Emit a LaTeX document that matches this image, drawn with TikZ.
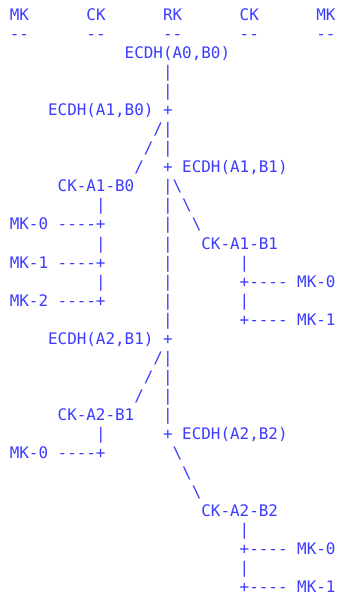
\documentclass[tikz,border=0pt]{standalone}
\usepackage{fontspec}
\setmonofont{DejaVu Sans Mono}
\definecolor{inkblue}{RGB}{60,60,255}
% one character cell: 9.58pt wide, one text row: 19.08pt high
\tikzset{
  ascii/.style={font=\ttfamily\fontsize{15.912}{19.08}\selectfont,
                text=inkblue, inner sep=0pt, anchor=base west},
}
% \glyph{name}{column}{row}{text}
\newcommand\glyph[4]{\node[ascii] (#1) at (#2,#3) {#4};}
\begin{document}
\begin{tikzpicture}[x=9.58pt,y=-19.08pt]
\useasboundingbox[fill=white] (0,-1.0535) rectangle (35.073,30.078);
% column headers
\glyph{hMK1}{1}{0}{MK} \glyph{hCK1}{9}{0}{CK} \glyph{hRK}{17}{0}{RK}
\glyph{hCK2}{25}{0}{CK} \glyph{hMK2}{33}{0}{MK}
\glyph{uMK1}{1}{1}{--} \glyph{uCK1}{9}{1}{--} \glyph{uRK}{17}{1}{--}
\glyph{uCK2}{25}{1}{--} \glyph{uMK2}{33}{1}{--}
% root chain, first step
\glyph{rk0}{13}{2}{ECDH(A0,B0)}
\glyph{rkbar3}{17}{3}{|}
\glyph{rkbar4}{17}{4}{|}
\glyph{rk1}{5}{5}{ECDH(A1,B0)} \glyph{rkplus5}{17}{5}{+}
\glyph{sl6}{16}{6}{/} \glyph{rkbar6}{17}{6}{|}
\glyph{sl7}{15}{7}{/} \glyph{rkbar7}{17}{7}{|}
\glyph{sl8}{14}{8}{/} \glyph{rkplus8}{17}{8}{+} \glyph{rk2}{19}{8}{ECDH(A1,B1)}
% sending chain A1-B0
\glyph{ckA1B0}{6}{9}{CK-A1-B0} \glyph{rkbar9}{17}{9}{|} \glyph{bs9}{18}{9}{\textbackslash}
\glyph{ckbar10}{10}{10}{|} \glyph{rkbar10}{17}{10}{|} \glyph{bs10}{19}{10}{\textbackslash}
\glyph{mkA0}{1}{11}{MK-0} \glyph{ckA0}{6}{11}{----+} \glyph{rkbar11}{17}{11}{|} \glyph{bs11}{20}{11}{\textbackslash}
\glyph{ckbar12}{10}{12}{|} \glyph{rkbar12}{17}{12}{|} \glyph{ckA1B1}{21}{12}{CK-A1-B1}
\glyph{mkA1}{1}{13}{MK-1} \glyph{ckA1}{6}{13}{----+} \glyph{rkbar13}{17}{13}{|} \glyph{cbbar13}{25}{13}{|}
\glyph{ckbar14}{10}{14}{|} \glyph{rkbar14}{17}{14}{|} \glyph{cbB0}{25}{14}{+----} \glyph{mkB0}{31}{14}{MK-0}
\glyph{mkA2}{1}{15}{MK-2} \glyph{ckA2}{6}{15}{----+} \glyph{rkbar15}{17}{15}{|} \glyph{cbbar15}{25}{15}{|}
\glyph{rkbar16}{17}{16}{|} \glyph{cbB1}{25}{16}{+----} \glyph{mkB1}{31}{16}{MK-1}
% root chain, second step
\glyph{rk3}{5}{17}{ECDH(A2,B1)} \glyph{rkplus17}{17}{17}{+}
\glyph{sl18}{16}{18}{/} \glyph{rkbar18}{17}{18}{|}
\glyph{sl19}{15}{19}{/} \glyph{rkbar19}{17}{19}{|}
\glyph{sl20}{14}{20}{/} \glyph{rkbar20}{17}{20}{|}
\glyph{ckA2B1}{6}{21}{CK-A2-B1} \glyph{rkbar21}{17}{21}{|}
\glyph{ckbar22}{10}{22}{|} \glyph{rkplus22}{17}{22}{+} \glyph{rk4}{19}{22}{ECDH(A2,B2)}
\glyph{mkC0}{1}{23}{MK-0} \glyph{ckC0}{6}{23}{----+} \glyph{bs23}{18}{23}{\textbackslash}
\glyph{bs24}{19}{24}{\textbackslash}
\glyph{bs25}{20}{25}{\textbackslash}
% receiving chain A2-B2
\glyph{ckA2B2}{21}{26}{CK-A2-B2}
\glyph{cdbar27}{25}{27}{|}
\glyph{cdD0}{25}{28}{+----} \glyph{mkD0}{31}{28}{MK-0}
\glyph{cdbar29}{25}{29}{|}
\glyph{cdD1}{25}{30}{+----} \glyph{mkD1}{31}{30}{MK-1}
\end{tikzpicture}
\end{document}
